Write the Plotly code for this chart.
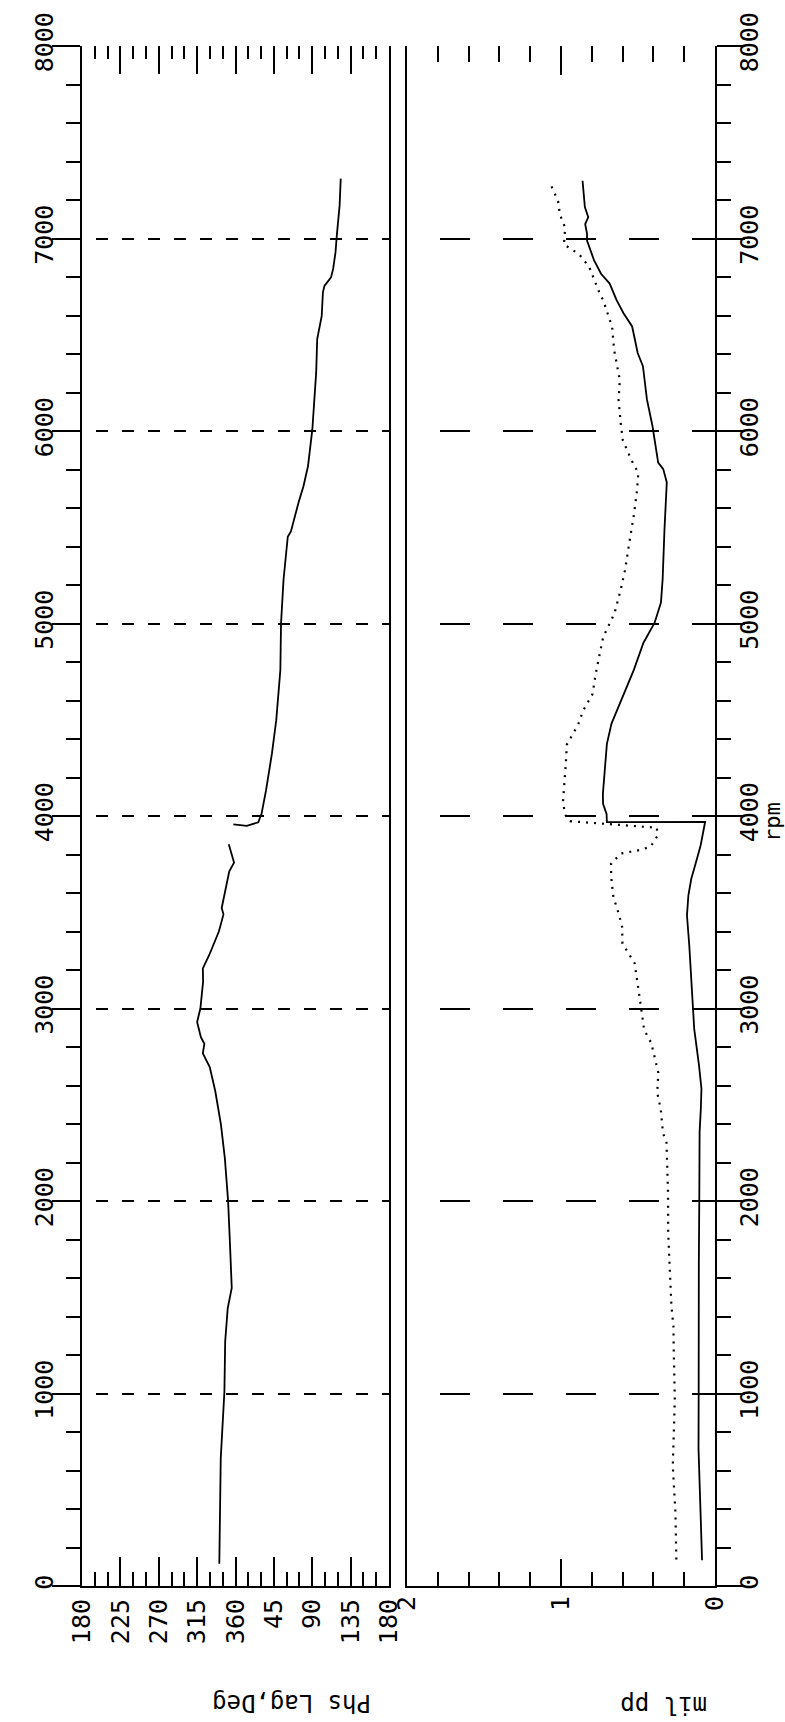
import plotly.graph_objects as go

# ---------------- data ----------------
rpm_ticks = [0, 1000, 2000, 3000, 4000, 5000, 6000, 7000, 8000]
phase_tick_labels = ["180", "225", "270", "315", "360", "45", "90", "135", "180"]
amp_tick_labels = ["0", "1", "2"]

# phase lag, degrees, unwrapped onto the 180..540 axis (below the 3900 rpm jump)
phase_rpm_low = [116, 335, 663, 1010, 1270, 1444, 1548, 1791, 2002, 2223, 2398, 2570,
                 2696, 2767, 2817, 2851, 2930, 3000, 3139, 3208, 3278, 3400, 3489,
                 3522, 3629, 3713, 3758, 3853]
phase_lag_low = [341.0, 341.5, 342.7, 347.0, 347.9, 350.9, 355.6, 353.4, 351.3, 347.5,
                 342.9, 336.3, 329.8, 321.7, 323.5, 319.4, 315.0, 318.8, 322.0, 321.7,
                 329.2, 340.5, 345.9, 343.8, 349.2, 352.7, 358.3, 352.1]
# phase lag above the jump
phase_rpm_high = [3956, 3949, 3967, 4011, 4133, 4324, 4498, 4758, 5001, 5226, 5451, 5478,
                  5630, 5713, 5817, 6008, 6303, 6477, 6598, 6720, 6754, 6798, 6842, 6929,
                  7016, 7172, 7311]
phase_lag_high = [357.5, 373.2, 386.7, 390.5, 395.8, 402.7, 407.8, 412.6, 413.4, 416.3,
                  421.3, 425.0, 434.0, 439.7, 445.0, 450.1, 454.6, 455.8, 461.1, 462.5,
                  464.3, 472.0, 474.5, 477.3, 478.8, 482.1, 483.4]

# amplitude, mil pp (solid)
amp_rpm = [134, 383, 712, 1024, 1319, 1667, 2011, 2219, 2358, 2479, 2583, 2706, 2825,
           2894, 3327, 3483, 3587, 3674, 3761, 3848, 3970, 3968, 4011, 4063, 4115, 4375,
           4480, 4620, 4759, 4899, 5004, 5109, 5230, 5490, 5663, 5733, 5802, 5836, 6026,
           6164, 6337, 6405, 6543, 6612, 6680, 6766, 6817, 6886, 6989, 7024, 7075, 7111,
           7163, 7300]
amp_mil = [0.084, 0.095, 0.107, 0.106, 0.107, 0.105, 0.102, 0.100, 0.100, 0.092, 0.088,
           0.104, 0.122, 0.135, 0.167, 0.182, 0.173, 0.154, 0.123, 0.093, 0.064, 0.702,
           0.704, 0.727, 0.728, 0.702, 0.672, 0.599, 0.527, 0.465, 0.392, 0.351, 0.340,
           0.328, 0.315, 0.313, 0.336, 0.369, 0.406, 0.442, 0.468, 0.502, 0.538, 0.594,
           0.639, 0.684, 0.740, 0.785, 0.831, 0.831, 0.843, 0.823, 0.845, 0.860]

# amplitude, mil pp (dotted)
dot_rpm = [138, 381, 623, 970, 1230, 1351, 1455, 1662, 1835, 2043, 2182, 2303, 2354, 2475,
           2562, 2666, 2821, 2889, 3027, 3183, 3235, 3338, 3424, 3493, 3579, 3683, 3752,
           3805, 3824, 3841, 3895, 3939, 3967, 3973, 4007, 4076, 4268, 4371, 4476, 4546,
           4634, 4738, 4930, 5052, 5174, 5281, 5382, 5573, 5695, 5782, 5850, 5953, 6040,
           6161, 6265, 6420, 6541, 6679, 6713, 6851, 6919, 6969, 7056, 7125, 7194, 7297]
dot_mil = [0.251, 0.257, 0.274, 0.261, 0.268, 0.270, 0.283, 0.295, 0.304, 0.305, 0.312,
           0.315, 0.338, 0.352, 0.375, 0.368, 0.414, 0.460, 0.484, 0.510, 0.522, 0.601,
           0.603, 0.625, 0.660, 0.674, 0.675, 0.612, 0.482, 0.418, 0.375, 0.377, 0.810,
           0.941, 0.974, 0.987, 0.969, 0.962, 0.888, 0.857, 0.795, 0.775, 0.726, 0.653,
           0.613, 0.583, 0.564, 0.525, 0.506, 0.498, 0.543, 0.599, 0.612, 0.626, 0.618,
           0.655, 0.668, 0.726, 0.748, 0.816, 0.883, 0.981, 0.973, 1.007, 1.019, 1.076]

# ---------------- geometry / style ----------------
W, H = 785, 1722
TOP, BOTTOM = 46, 1586
PH_L, PH_R = 82, 389
AM_L, AM_R = 407, 715
FONT = "DejaVu Sans Mono"
BLACK = "black"

def px_x(p):
    return p / W

def px_y(p):
    return (BOTTOM - p) / (BOTTOM - TOP)

fig = go.Figure()

# phase curve (two branches, broken at the jump)
fig.add_trace(go.Scatter(
    x=phase_lag_low + [None] + phase_lag_high,
    y=phase_rpm_low + [None] + phase_rpm_high,
    mode="lines", line=dict(color=BLACK, width=1.8),
    xaxis="x", yaxis="y", connectgaps=False, hoverinfo="skip"))

# amplitude, dotted
fig.add_trace(go.Scatter(
    x=dot_mil, y=dot_rpm, mode="lines",
    line=dict(color=BLACK, width=2.2, dash="2px,6px"),
    xaxis="x2", yaxis="y2", hoverinfo="skip"))
# amplitude, solid
fig.add_trace(go.Scatter(
    x=amp_mil, y=amp_rpm, mode="lines",
    line=dict(color=BLACK, width=1.8),
    xaxis="x2", yaxis="y2", hoverinfo="skip"))

# invisible traces so the top tick-only axes exist
fig.add_trace(go.Scatter(x=[180, 540], y=[None, None], mode="lines",
                         xaxis="x3", yaxis="y", hoverinfo="skip"))
fig.add_trace(go.Scatter(x=[0, 2], y=[None, None], mode="lines",
                         xaxis="x4", yaxis="y2", hoverinfo="skip"))

tickfont = dict(family=FONT, size=25, color=BLACK)
phase_alias = {str(180 + 45 * i): lab for i, lab in enumerate(phase_tick_labels)}

common_y = dict(
    range=[rpm_ticks[0], rpm_ticks[-1]], tickmode="array", tickvals=rpm_ticks,
    ticktext=[str(v) for v in rpm_ticks],
    showline=True, linecolor=BLACK, linewidth=2, mirror=True,
    ticks="outside", ticklen=28, tickwidth=2, tickcolor=BLACK,
    minor=dict(tickmode="linear", tick0=0, dtick=200, ticks="outside", ticklen=14,
               tickwidth=1.6, tickcolor=BLACK, showgrid=False),
    tickangle=-90, tickfont=tickfont, showgrid=True, gridcolor=BLACK,
    zeroline=False, domain=[0, 1],
)

fig.update_layout(
    width=W, height=H, template="none",
    margin=dict(l=0, r=0, t=TOP, b=H - BOTTOM, pad=0),
    paper_bgcolor="white", plot_bgcolor="white", showlegend=False,
    font=dict(family=FONT, size=25, color=BLACK),
    xaxis=dict(
        domain=[px_x(PH_L), px_x(PH_R)], range=[180, 540], anchor="y",
        tickmode="linear", tick0=180, dtick=45, labelalias=phase_alias,
        showline=True, linecolor=BLACK, linewidth=2, mirror=False,
        ticks="inside", ticklen=29, tickwidth=1.6, tickcolor=BLACK,
        minor=dict(tickmode="linear", tick0=180, dtick=15, ticks="inside",
                   ticklen=14, tickwidth=1.6, tickcolor=BLACK, showgrid=False),
        tickangle=-90, tickfont=tickfont, ticklabelstandoff=1,
        showgrid=False, zeroline=False),
    xaxis3=dict(
        overlaying="x", side="top", anchor="y", range=[180, 540],
        tickmode="linear", tick0=180, dtick=45, showticklabels=False,
        showline=False, ticks="inside", ticklen=28, tickwidth=1.6, tickcolor=BLACK,
        minor=dict(tickmode="linear", tick0=180, dtick=15, ticks="inside",
                   ticklen=13, tickwidth=1.6, tickcolor=BLACK, showgrid=False),
        showgrid=False, zeroline=False),
    xaxis2=dict(
        domain=[px_x(AM_L), px_x(AM_R)], range=[2, 0], anchor="y2",
        tickmode="array", tickvals=[0, 1, 2], ticktext=amp_tick_labels,
        showline=True, linecolor=BLACK, linewidth=2, mirror=False,
        ticks="inside", ticklen=27, tickwidth=1.6, tickcolor=BLACK,
        minor=dict(tickmode="linear", tick0=0, dtick=0.2, ticks="inside",
                   ticklen=14, tickwidth=1.6, tickcolor=BLACK, showgrid=False),
        tickangle=-90, tickfont=tickfont, ticklabelstandoff=-2,
        showgrid=False, zeroline=False),
    xaxis4=dict(
        overlaying="x2", side="top", anchor="y2", range=[2, 0],
        tickmode="linear", tick0=0, dtick=1, showticklabels=False,
        showline=False, ticks="inside", ticklen=29, tickwidth=1.6, tickcolor=BLACK,
        minor=dict(tickmode="linear", tick0=0, dtick=0.2, ticks="inside",
                   ticklen=16, tickwidth=1.6, tickcolor=BLACK, showgrid=False),
        showgrid=False, zeroline=False),
    yaxis=dict(anchor="x", side="left", gridwidth=2, ticklabelstandoff=-11,
               griddash="0px,14px,12px,0px", **common_y),
    yaxis2=dict(anchor="x2", side="right", matches="y", gridwidth=2,
                ticklabelstandoff=-17,
                griddash="0px,33px,30px,0px", **common_y),
    annotations=[
        dict(text="Phs Lag,Deg", xref="paper", yref="paper",
             x=px_x(292), y=px_y(1703), xanchor="center", yanchor="middle",
             textangle=180, showarrow=False,
             font=dict(family=FONT, size=24, color=BLACK)),
        dict(text="mil pp", xref="paper", yref="paper",
             x=px_x(664), y=px_y(1705), xanchor="center", yanchor="middle",
             textangle=180, showarrow=False,
             font=dict(family=FONT, size=24, color=BLACK)),
        dict(text="rpm", xref="paper", yref="paper",
             x=px_x(773), y=px_y(822), xanchor="center", yanchor="middle",
             textangle=-90, showarrow=False,
             font=dict(family=FONT, size=22, color=BLACK)),
    ],
)

fig.write_html("out.html")
